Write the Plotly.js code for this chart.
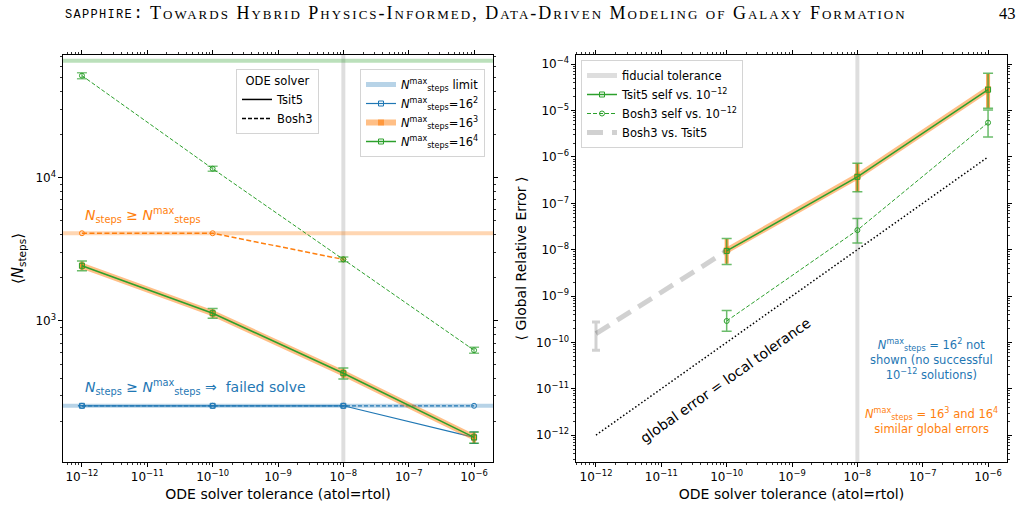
<!DOCTYPE html>
<html>
<head>
<meta charset="utf-8">
<script src="https://cdn.plot.ly/plotly-3.0.1.min.js"></script>
<style>
  html, body { margin: 0; padding: 0; background: #fff; }
  #chart { width: 1025px; height: 531px; }
</style>
</head>
<body>
<div id="chart"></div>
<script>
// ODE solver tolerances (atol = rtol)
const tolerances = [1e-12, 1e-10, 1e-8, 1e-6];
const fiducialTol = [1e-8];
// Step caps: 16^2, 16^3, 16^4
const maxSteps = [256, 4096, 65536];

// Mean number of steps per cap and solver
const steps16p2Tsit5 = [256, 256, 256, 154];
const steps16p2Tsit5Err = [0, 0, 0, 14];
const steps16p2Bosh3 = [256, 256, 256, 256];
const steps16p3Tsit5 = [2430, 1133, 432, 154];
const steps16p3Tsit5Err = [170, 80, 32, 13];
const steps16p3Bosh3 = [4096, 4096, 2690];
const steps16p3Bosh3Err = [0, 0, 90];
const steps16p4Tsit5 = [2430, 1133, 432, 154];
const steps16p4Tsit5Err = [190, 90, 38, 14];
const steps16p4Bosh3 = [51500, 11550, 2690, 625];
const steps16p4Bosh3Err = [2500, 450, 100, 30];

// Global relative errors
const errTols = [1e-10, 1e-8, 1e-6];
const tsit5Self = [9.4e-9, 3.73e-7, 2.83e-5];
const tsit5SelfLo = [4.8e-9, 1.78e-7, 1.12e-5];
const tsit5SelfHi = [1.75e-8, 7.3e-7, 6.4e-5];
const tsit5Self16p3 = [9.6e-9, 3.8e-7, 2.9e-5];
const tsit5Self16p3Lo = [5.0e-9, 1.8e-7, 1.15e-5];
const tsit5Self16p3Hi = [1.7e-8, 7.2e-7, 6.2e-5];
const bosh3Self = [2.9e-10, 2.64e-8, 5.5e-6];
const bosh3SelfLo = [1.74e-10, 1.4e-8, 2.7e-6];
const bosh3SelfHi = [4.9e-10, 4.7e-8, 1.03e-5];
const crossTols = [1e-12, 1e-10];
const bosh3VsTsit5 = [1.55e-10, 9.4e-9];
const bosh3VsTsit5Lo = [6.8e-11, 9.4e-9];
const bosh3VsTsit5Hi = [2.76e-10, 9.4e-9];
// global error = local tolerance
const unitLine = [1e-12, 1e-6];

const BLUE = '#1f77b4', ORANGE = '#ff7f0e', GREEN = '#2ca02c';
const FONT = 'DejaVu Sans, sans-serif';
const NMAX = '<i>N</i><sup>max</sup><sub>steps</sub>';

function symErr(err, color, thick, w) {
  return { type: 'data', array: err, visible: true, color: color, thickness: thick, width: w };
}
function boundErr(y, lo, hi, color, thick, w) {
  return {
    type: 'data', symmetric: false, visible: true,
    array: y.map((v, i) => hi[i] - v),
    arrayminus: y.map((v, i) => v - lo[i]),
    color: color, thickness: thick, width: w
  };
}

const traces = [
  // ---------- left panel ----------
  { x: tolerances, y: steps16p2Bosh3, xaxis: 'x', yaxis: 'y', mode: 'lines+markers',
    line: { color: BLUE, width: 1.2, dash: '4px,2px' },
    marker: { symbol: 'circle-open', size: 5, color: BLUE }, showlegend: false },
  { x: tolerances, y: steps16p2Tsit5, xaxis: 'x', yaxis: 'y', mode: 'lines+markers',
    line: { color: BLUE, width: 1.2 },
    marker: { symbol: 'square-open', size: 5, color: BLUE },
    error_y: symErr(steps16p2Tsit5Err, BLUE, 1, 4),
    name: NMAX + '=16<sup>2</sup>', legend: 'legend2', legendrank: 2 },
  { x: tolerances.slice(0, 3), y: steps16p3Bosh3, xaxis: 'x', yaxis: 'y', mode: 'lines+markers',
    line: { color: ORANGE, width: 1.5, dash: '5px,2.5px' },
    marker: { symbol: 'circle-open', size: 5, color: ORANGE },
    error_y: symErr(steps16p3Bosh3Err, 'rgba(255,127,14,0.6)', 3, 0),
    showlegend: false },
  { x: tolerances, y: steps16p3Tsit5, xaxis: 'x', yaxis: 'y', mode: 'lines+markers',
    line: { color: 'rgba(255,127,14,0.5)', width: 6 },
    marker: { symbol: 'square', size: 6, color: 'rgba(255,127,14,0.6)' },
    error_y: symErr(steps16p3Tsit5Err, 'rgba(255,127,14,0.6)', 4, 0),
    name: NMAX + '=16<sup>3</sup>', legend: 'legend2', legendrank: 3 },
  { x: tolerances, y: steps16p4Bosh3, xaxis: 'x', yaxis: 'y', mode: 'lines+markers',
    line: { color: GREEN, width: 1, dash: '4px,2px' },
    marker: { symbol: 'circle-open', size: 5, color: GREEN },
    error_y: symErr(steps16p4Bosh3Err, 'rgba(44,160,44,0.6)', 1.5, 5),
    showlegend: false },
  { x: tolerances, y: steps16p4Tsit5, xaxis: 'x', yaxis: 'y', mode: 'lines+markers',
    line: { color: GREEN, width: 1.5 },
    marker: { symbol: 'square-open', size: 5, color: GREEN },
    error_y: symErr(steps16p4Tsit5Err, 'rgba(44,160,44,0.7)', 1.5, 5),
    name: NMAX + '=16<sup>4</sup>', legend: 'legend2', legendrank: 4 },
  // legend-only entries
  { x: [null], y: [null], xaxis: 'x', yaxis: 'y', mode: 'lines',
    line: { color: 'rgba(31,119,180,0.32)', width: 5 },
    name: NMAX + ' limit', legend: 'legend2', legendrank: 1 },
  { x: [null], y: [null], xaxis: 'x', yaxis: 'y', mode: 'lines',
    line: { color: 'black', width: 1.5 }, name: 'Tsit5', legend: 'legend', legendrank: 1 },
  { x: [null], y: [null], xaxis: 'x', yaxis: 'y', mode: 'lines',
    line: { color: 'black', width: 1.5, dash: '4px,2px' }, name: 'Bosh3', legend: 'legend', legendrank: 2 },

  // ---------- right panel ----------
  { x: crossTols, y: bosh3VsTsit5, xaxis: 'x2', yaxis: 'y2', mode: 'lines',
    line: { color: 'rgba(0,0,0,0.18)', width: 5, dash: '16px,9px' },
    error_y: boundErr(bosh3VsTsit5, bosh3VsTsit5Lo, bosh3VsTsit5Hi, 'rgba(0,0,0,0.18)', 3, 4),
    name: 'Bosh3 vs. Tsit5', legend: 'legend3', legendrank: 4 },
  { x: errTols, y: tsit5Self16p3, xaxis: 'x2', yaxis: 'y2', mode: 'lines+markers',
    line: { color: 'rgba(255,127,14,0.5)', width: 6 },
    marker: { symbol: 'square', size: 6, color: 'rgba(255,127,14,0.6)' },
    error_y: boundErr(tsit5Self16p3, tsit5Self16p3Lo, tsit5Self16p3Hi, 'rgba(255,127,14,0.7)', 4, 0),
    showlegend: false },
  { x: errTols, y: tsit5Self, xaxis: 'x2', yaxis: 'y2', mode: 'lines+markers',
    line: { color: GREEN, width: 1.5 },
    marker: { symbol: 'square-open', size: 5, color: GREEN },
    error_y: boundErr(tsit5Self, tsit5SelfLo, tsit5SelfHi, 'rgba(44,160,44,0.7)', 1.5, 5),
    name: 'Tsit5 self vs. 10<sup>\u221212</sup>', legend: 'legend3', legendrank: 2 },
  { x: errTols, y: bosh3Self, xaxis: 'x2', yaxis: 'y2', mode: 'lines+markers',
    line: { color: GREEN, width: 1, dash: '4px,2px' },
    marker: { symbol: 'circle-open', size: 5, color: GREEN },
    error_y: boundErr(bosh3Self, bosh3SelfLo, bosh3SelfHi, 'rgba(44,160,44,0.7)', 1.5, 5),
    name: 'Bosh3 self vs. 10<sup>\u221212</sup>', legend: 'legend3', legendrank: 3 },
  { x: unitLine, y: unitLine, xaxis: 'x2', yaxis: 'y2', mode: 'lines',
    line: { color: 'black', width: 1.5, dash: '1.5px,2.2px' }, showlegend: false },
  { x: [null], y: [null], xaxis: 'x2', yaxis: 'y2', mode: 'lines',
    line: { color: 'rgba(0,0,0,0.13)', width: 5 },
    name: 'fiducial tolerance', legend: 'legend3', legendrank: 1 }
];

const limitColors = ['rgba(31,119,180,0.32)', 'rgba(255,127,14,0.32)', 'rgba(44,160,44,0.32)'];
const shapes = [
  { type: 'line', xref: 'x', yref: 'y domain', x0: fiducialTol[0], x1: fiducialTol[0], y0: 0, y1: 1,
    line: { color: 'rgba(0,0,0,0.13)', width: 4 }, layer: 'below' },
  { type: 'line', xref: 'x2', yref: 'y2 domain', x0: fiducialTol[0], x1: fiducialTol[0], y0: 0, y1: 1,
    line: { color: 'rgba(0,0,0,0.13)', width: 4 }, layer: 'below' }
].concat(maxSteps.map((m, i) => ({
  type: 'line', xref: 'x domain', yref: 'y', x0: 0, x1: 1, y0: m, y1: m,
  line: { color: limitColors[i], width: 4 }, layer: 'below'
})));

function logAxis(extra) {
  return Object.assign({
    type: 'log', dtick: 1, exponentformat: 'power',
    showline: true, linecolor: 'black', linewidth: 1, mirror: 'ticks',
    ticks: 'outside', ticklen: 4, tickwidth: 1, tickcolor: 'black',
    tickfont: { family: FONT, size: 9.6, color: 'black' },
    minor: { ticks: 'outside', ticklen: 2, tickwidth: 0.8, tickcolor: 'black', dtick: 'D1' },
    showgrid: false, zeroline: false, automargin: false, fixedrange: true
  }, extra);
}

const xTitle = { text: 'ODE solver tolerance (atol=rtol)', font: { family: FONT, size: 14, color: 'black' }, standoff: 6 };

const legendBase = {
  bgcolor: 'rgba(255,255,255,0.85)', bordercolor: '#d4d4d4', borderwidth: 1,
  font: { family: FONT, size: 11.5, color: 'black' }, yanchor: 'top', tracegroupgap: 0
};

const annFont = (size, color) => ({ family: FONT, size: size, color: color });

const annotations = [
  { xref: 'paper', yref: 'paper', x: 63 / 1025, y: 1 - 13 / 531, xanchor: 'left', yanchor: 'middle',
    text: '<span style="letter-spacing:1.3px">sapphire:</span>', showarrow: false,
    font: { family: 'Liberation Mono, monospace', size: 17, color: 'black', variant: 'small-caps' } },
  { xref: 'paper', yref: 'paper', x: 148 / 1025, y: 1 - 13 / 531, xanchor: 'left', yanchor: 'middle',
    text: '<span style="letter-spacing:2px">Towards Hybrid Physics-Informed, Data-Driven Modeling of Galaxy Formation</span>',
    showarrow: false,
    font: { family: 'Liberation Serif, serif', size: 18, color: 'black', variant: 'small-caps' } },
  { xref: 'paper', yref: 'paper', x: 1018 / 1025, y: 1 - 13 / 531, xanchor: 'right', yanchor: 'middle',
    text: '43', showarrow: false, font: { family: 'Liberation Serif, serif', size: 16.5, color: 'black' } },

  { xref: 'x domain', yref: 'y domain', x: 0.047, y: 0.607, xanchor: 'left', yanchor: 'middle',
    text: '<i>N</i><sub>steps</sub> \u2265 ' + NMAX, showarrow: false, font: annFont(14, ORANGE) },
  { xref: 'x domain', yref: 'y domain', x: 0.047, y: 0.185, xanchor: 'left', yanchor: 'middle',
    text: '<i>N</i><sub>steps</sub> \u2265 ' + NMAX + ' \u21d2  failed solve', showarrow: false, font: annFont(14, BLUE) },

  { xref: 'x2 domain', yref: 'y2 domain', x: 0.824, y: 0.251, xanchor: 'center', yanchor: 'middle',
    text: NMAX + ' = 16<sup>2</sup> not<br>shown (no successful<br>10<sup>\u221212</sup> solutions)',
    showarrow: false, align: 'center', font: annFont(11.5, BLUE) },
  { xref: 'x2 domain', yref: 'y2 domain', x: 0.824, y: 0.101, xanchor: 'center', yanchor: 'middle',
    text: NMAX + ' = 16<sup>3</sup> and 16<sup>4</sup><br>similar global errors',
    showarrow: false, align: 'center', font: annFont(11.5, ORANGE) },
  { xref: 'x2 domain', yref: 'y2 domain', x: 0.348, y: 0.201, xanchor: 'center', yanchor: 'middle',
    text: 'global error = local tolerance', textangle: -35.3, showarrow: false, font: annFont(14, 'black') }
];

const layout = {
  width: 1025, height: 531,
  margin: { l: 0, r: 0, t: 0, b: 0 },
  paper_bgcolor: 'white', plot_bgcolor: 'white',
  font: { family: FONT, color: 'black' },
  xaxis: logAxis({ domain: [63 / 1025, 493 / 1025], range: [-12.29, -5.71], anchor: 'y', title: xTitle }),
  yaxis: logAxis({ domain: [1 - 462 / 531, 1 - 55 / 531], range: [2.016, 4.856], anchor: 'x',
    title: { text: '\u27e8<i>N</i><sub>steps</sub>\u27e9', font: { family: FONT, size: 15, color: 'black' }, standoff: 8 } }),
  xaxis2: logAxis({ domain: [576 / 1025, 1007 / 1025], range: [-12.306, -5.71], anchor: 'y2', title: xTitle }),
  yaxis2: logAxis({ domain: [1 - 462 / 531, 1 - 55 / 531], range: [-12.58, -3.80], anchor: 'x2',
    title: { text: '\u27e8 Global Relative Error \u27e9', font: { family: FONT, size: 14, color: 'black' }, standoff: 6 } }),
  legend: Object.assign({}, legendBase, { x: 236 / 1025, y: 1 - 69 / 531, xanchor: 'left',
    title: { text: 'ODE solver', side: 'top center', font: { family: FONT, size: 11.5, color: 'black' } } }),
  legend2: Object.assign({}, legendBase, { x: 485 / 1025, y: 1 - 69 / 531, xanchor: 'right' }),
  legend3: Object.assign({}, legendBase, { x: 581 / 1025, y: 1 - 60 / 531, xanchor: 'left' }),
  shapes: shapes,
  annotations: annotations,
  showlegend: true
};

Plotly.newPlot('chart', traces, layout, { displayModeBar: false, staticPlot: true });
</script>
</body>
</html>
